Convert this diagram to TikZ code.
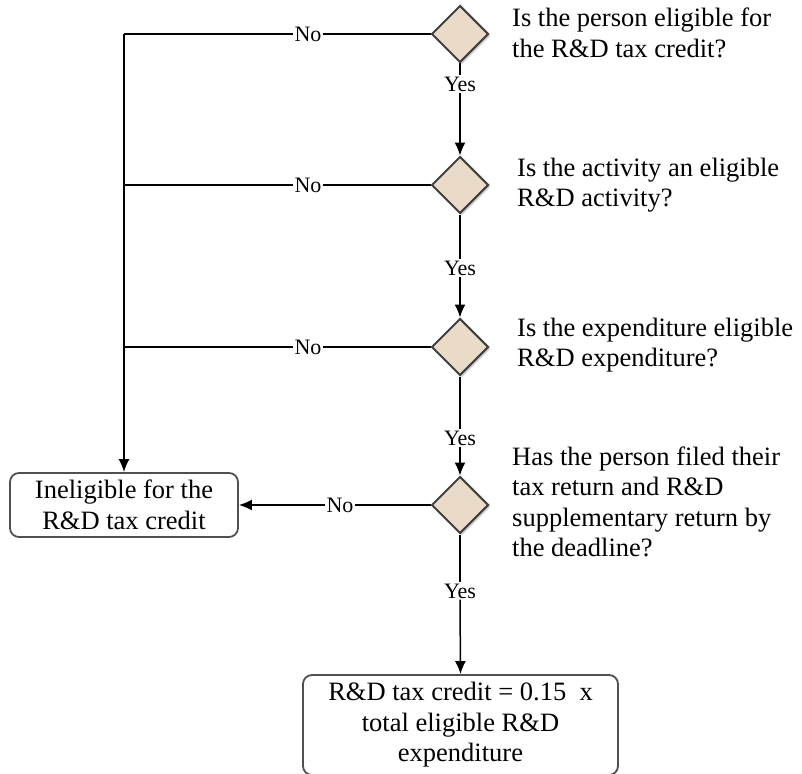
\documentclass[tikz,border=0pt]{standalone}
\usepackage{fontspec}
\setmainfont{Liberation Serif}
\usetikzlibrary{shapes.geometric,arrows.meta,shadows}
\definecolor{dfill}{HTML}{EADBC8}
\definecolor{dline}{HTML}{404040}
\definecolor{bline}{HTML}{505050}
\begin{document}
\begin{tikzpicture}[x=1pt,y=-1pt,
  every node/.style={font=\fontsize{26.5}{30.5}\selectfont},
  dec/.style={diamond,draw=dline,line width=2pt,fill=dfill,minimum width=57pt,minimum height=57pt,inner sep=0pt,
    drop shadow={shadow xshift=2pt,shadow yshift=-2pt,opacity=0.35}},
  endbox/.style={draw=bline,line width=1.8pt,rounded corners=9pt,align=center,inner sep=0pt},
  lbl/.style={fill=white,inner sep=1pt,font=\fontsize{22}{24}\selectfont},
  qtext/.style={anchor=west,align=left,inner sep=0pt},
  conn/.style={line width=1.5pt,black},
  arr/.style={conn,-{Latex[length=13pt,width=11pt]}}
]
\useasboundingbox (0,0) rectangle (802,773);

\node[dec] (d1) at (460,34) {};
\node[dec] (d2) at (460,185) {};
\node[dec] (d3) at (460,347) {};
\node[dec] (d4) at (460,505) {};

\node[qtext] (q1) at (512,33) {Is the person eligible for\\the R\&D tax credit?};
\node[qtext] (q2) at (517,185) {Is the activity an eligible\\R\&D activity?};
\node[qtext] (q3) at (517,345) {Is the expenditure eligible\\R\&D expenditure?};
\node[qtext] (q4) at (512,502) {Has the person filed their\\tax return and R\&D\\supplementary return by\\the deadline?};

\node[endbox,minimum width=228pt,minimum height=64pt] (inel) at (124,505) {Ineligible for the\\R\&D tax credit};
\node[endbox,minimum width=315pt,minimum height=100pt] (credit) at (460.5,725) {R\&D tax credit = 0.15~~x\\total eligible R\&D\\expenditure};

\node[lbl] (y1) at (460,84) {Yes};
\node[lbl] (y2) at (460,268) {Yes};
\node[lbl] (y3) at (460,438) {Yes};
\node[lbl] (y4) at (460,591) {Yes};

\node[lbl] (n1) at (308,34) {No};
\node[lbl] (n2) at (308,185) {No};
\node[lbl] (n3) at (308,347) {No};
\node[lbl] (n4) at (340,505) {No};

\coordinate (j1) at (124,34);
\coordinate (j2) at (124,185);
\coordinate (j3) at (124,347);

\draw[conn] (d1.south) -- (y1.north);
\draw[arr] (y1.south) -- (d2.north);
\draw[conn] (d2.south) -- (y2.north);
\draw[arr] (y2.south) -- (d3.north);
\draw[conn] (d3.south) -- (y3.north);
\draw[arr] (y3.south) -- (d4.north);
\draw[conn] (d4.south) -- (y4.north);
\draw[arr] (y4.south) -- (credit.north);

\draw[conn] (d1.west) -- (n1.east);
\draw[conn] (n1.west) -- (j1);
\draw[arr] (j1) -- (inel.north);
\draw[conn] (d2.west) -- (n2.east);
\draw[conn] (n2.west) -- (j2);
\draw[conn] (d3.west) -- (n3.east);
\draw[conn] (n3.west) -- (j3);
\draw[conn] (d4.west) -- (n4.east);
\draw[arr] (n4.west) -- (inel.east);
\end{tikzpicture}
\end{document}
